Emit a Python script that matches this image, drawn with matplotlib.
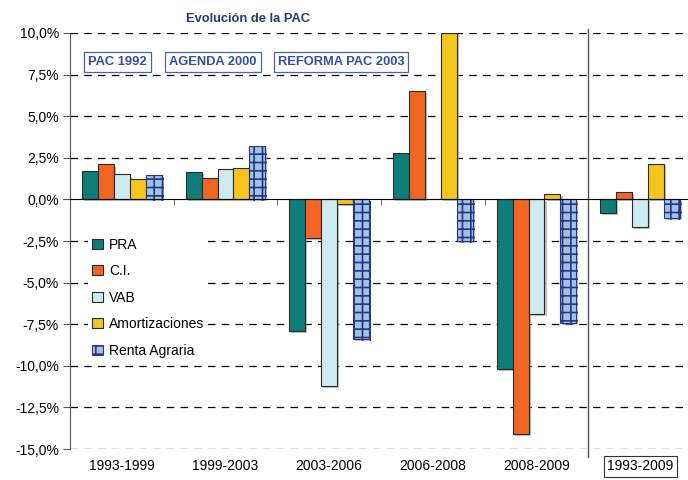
import numpy as np
import matplotlib
matplotlib.use("Agg")
import matplotlib.pyplot as plt
from matplotlib.patches import Patch
from matplotlib.ticker import FuncFormatter, FixedLocator
import matplotlib.patheffects as pe

plt.rcParams['font.family'] = ['Liberation Sans', 'DejaVu Sans']
plt.rcParams['hatch.linewidth'] = 1.2

# Datos
periodos = ["1993-1999", "1999-2003", "2003-2006", "2006-2008", "2008-2009", "1993-2009"]
pra = [1.7, 1.65, -7.9, 2.8, -10.2, -0.8]
ci = [2.1, 1.3, -2.3, 6.5, -14.1, 0.45]
vab = [1.5, 1.85, -11.2, 0.0, -6.9, -1.65]
amort = [1.2, 1.9, -0.25, 10.0, 0.3, 2.15]
renta = [1.45, 3.2, -8.4, -2.5, -7.4, -1.1]

series = ["PRA", "C.I.", "VAB", "Amortizaciones", "Renta Agraria"]
valores = [pra, ci, vab, amort, renta]
colores = ["#0e7c78", "#f26522", "#cdebf0", "#f5c51c", "#9dc3e6"]
hatches = [None, None, None, None, "++"]

fases = ["PAC 1992", "AGENDA 2000", "REFORMA PAC 2003"]
fases_x = [-0.04, 0.879, 2.113]

fig = plt.figure(figsize=(6.88, 4.80), dpi=100)
ax = fig.add_axes([70 / 688, 1 - 449 / 480, 622 / 688, 416 / 480])

x = np.arange(len(periodos))
w = 0.154
sombra = [pe.SimplePatchShadow(offset=(1.5, -1.5), shadow_rgbFace="#999999", alpha=0.6), pe.Normal()]
for i, (nom, val, col, h) in enumerate(zip(series, valores, colores, hatches)):
    bars = ax.bar(x + (i - 2) * w, val, w, color=col, edgecolor="#2a2a2a" if h is None else "#2b3580",
                  linewidth=0.8, hatch=h, zorder=3, label=nom)
    for b in bars:
        b.set_path_effects(sombra)
        if h is not None:
            b.set_edgecolor("#2b3580")

ax.set_xlim(-0.5, 5.5)
ax.set_ylim(-15, 10)
ax.yaxis.set_major_locator(FixedLocator(np.arange(-15, 10.1, 2.5)))
ax.yaxis.set_major_formatter(FuncFormatter(lambda v, p: ("%.1f%%" % v).replace(".", ",")))
ax.tick_params(axis="y", labelsize=10, length=5, color="#555555", pad=3)

# rejilla discontinua
for v in np.arange(-15, 10.1, 2.5):
    if abs(v) > 1e-9:
        ax.axhline(v, color="black", lw=0.9, ls=(0, (6, 5)), zorder=1)

ax.spines["top"].set_visible(False)
ax.spines["right"].set_visible(False)
ax.spines["left"].set_color("#555555")
ax.spines["bottom"].set_position(("data", 0))
ax.spines["bottom"].set_color("black")
ax.spines["bottom"].set_zorder(4)
ax.set_xticks(x)
ax.set_xticklabels([])
ax.tick_params(axis="x", which="major", length=0)
ax.set_xticks(np.arange(0.5, 5, 1.0), minor=True)
ax.tick_params(axis="x", which="minor", length=4, color="#555555", direction="out")

for xi, lab in zip(x, periodos):
    kw = {}
    if lab == "1993-2009":
        kw["bbox"] = dict(boxstyle="square,pad=0.25", fc="white", ec="#333333", lw=0.8)
    ax.text(xi, -0.041, lab, transform=ax.get_xaxis_transform(), ha="center", va="center",
            fontsize=10, **kw)

# separador
ax.plot([4.5, 4.5], [-15.5, 10.25], color="#555555", lw=1.0, clip_on=False, zorder=2)

# fases de la PAC
for fx, txt in zip(fases_x, fases):
    ax.text(fx, 8.25, txt, ha="center", va="center", fontsize=9.3, fontweight="bold", color="#2f4ea6",
            bbox=dict(boxstyle="square,pad=0.3", fc="white", ec="#4a62b5", lw=0.9), zorder=5)

fig.text(248 / 688, 1 - 19 / 480, "Evolución de la PAC", ha="center", va="center", fontsize=9.3,
         fontweight="bold", color="#1f3a78")

handles = [Patch(facecolor=c, edgecolor="#2a2a2a" if h is None else "#2b3580", hatch=h, lw=0.8)
           for c, h in zip(colores, hatches)]
leg = ax.legend(handles, series, loc="upper left", bbox_to_anchor=(0.018, 0.535), fontsize=10,
                handlelength=0.75, handleheight=0.75, handletextpad=0.45, labelspacing=0.9,
                frameon=True, framealpha=1, borderpad=0.3)
leg.get_frame().set_edgecolor("none")
leg.set_zorder(6)

fig.savefig("out.png", dpi=100)
